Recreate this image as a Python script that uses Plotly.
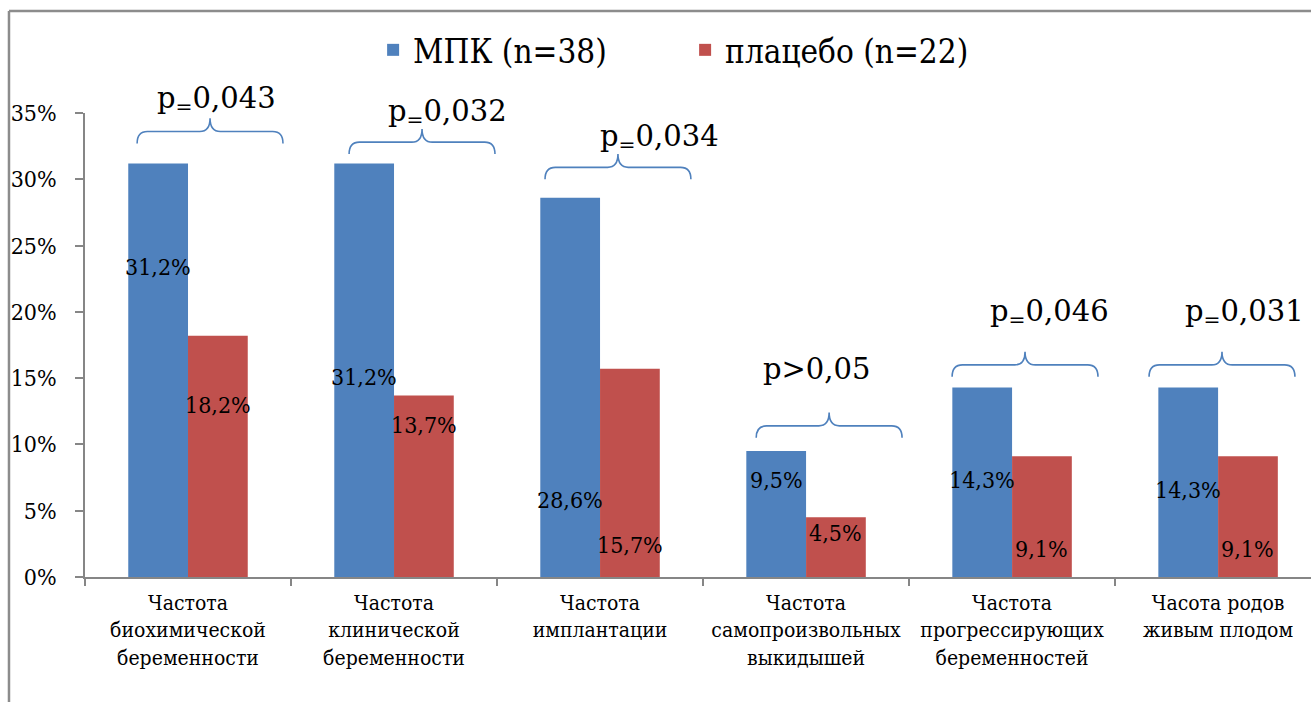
import plotly.graph_objects as go

# --- data -----------------------------------------------------------------
categories = [
    "Частота<br>биохимической<br>беременности",
    "Частота<br>клинической<br>беременности",
    "Частота<br>имплантации",
    "Частота<br>самопроизвольных<br>выкидышей",
    "Частота<br>прогрессирующих<br>беременностей",
    "Часота родов<br>живым плодом",
]
mpk_values = [31.2, 31.2, 28.6, 9.5, 14.3, 14.3]
placebo_values = [18.2, 13.7, 15.7, 4.5, 9.1, 9.1]
p_labels = ["p<sub>=</sub>0,043", "p<sub>=</sub>0,032", "p<sub>=</sub>0,034",
            "p>0,05", "p<sub>=</sub>0,046", "p<sub>=</sub>0,031"]
series_names = ["МПК (n=38)", "плацебо (n=22)"]
y_tick_vals = [0, 5, 10, 15, 20, 25, 30, 35]
y_tick_text = ["0%", "5%", "10%", "15%", "20%", "25%", "30%", "35%"]

# --- placement of the hand-positioned labels ------------------------------
mpk_label_y = [23.4, 15.1, 5.8, 7.3, 7.3, 6.6]
placebo_label_y = [13.0, 11.5, 2.4, 3.3, 2.1, 2.1]
brace_center = [0.107, 1.136, 2.087, 3.112, 4.063, 5.019]
brace_level = [33.6, 32.8, 30.9, 11.4, 16.0, 16.0]
p_label_x = [0.14, 1.26, 2.29, 3.05, 4.18, 5.13]
p_label_y = [37.6, 36.6, 34.7, 15.7, 19.9, 19.9]

Y_MAX = 35
BLUE = "#4F81BD"
RED = "#C0504D"
AXIS = "#868686"
FONT = "DejaVu Serif Condensed"
FONT_P = "DejaVu Serif"

BAR_GAP = 0.42
half_bar = (1 - BAR_GAP) / 4  # offset of each bar centre from the group centre

fig = go.Figure()
fig.add_trace(go.Bar(x=categories, y=mpk_values, name=series_names[0],
                     marker=dict(color=BLUE, line=dict(width=0))))
fig.add_trace(go.Bar(x=categories, y=placebo_values, name=series_names[1],
                     marker=dict(color=RED, line=dict(width=0))))


def pct(v):
    return f"{v:.1f}".replace(".", ",") + "%"


annotations = []
for i in range(len(categories)):
    annotations.append(dict(x=i - half_bar, y=mpk_label_y[i], xref="x", yref="y",
                            text=pct(mpk_values[i]), showarrow=False,
                            font=dict(size=23, color="black", family=FONT)))
    annotations.append(dict(x=i + half_bar, y=placebo_label_y[i], xref="x", yref="y",
                            text=pct(placebo_values[i]), showarrow=False,
                            font=dict(size=23, color="black", family=FONT)))
    # p-values may sit above the top of the value axis, so place them in domain units
    annotations.append(dict(x=p_label_x[i], y=p_label_y[i] / Y_MAX,
                            xref="x", yref="y domain",
                            text=p_labels[i], showarrow=False,
                            font=dict(size=29, color="black", family=FONT_P)))

# curly braces above each pair of bars
shapes = []
hw, r, tip, drop = 0.354, 0.05, 1.0, 0.9
for c, lv in zip(brace_center, brace_level):
    xl, xr = c - hw, c + hw
    path = (f"M{xl},{lv - drop} Q{xl},{lv} {xl + r},{lv} "
            f"L{c - r},{lv} Q{c},{lv} {c},{lv + tip} "
            f"Q{c},{lv} {c + r},{lv} "
            f"L{xr - r},{lv} Q{xr},{lv} {xr},{lv - drop}")
    shapes.append(dict(type="path", path=path, xref="x", yref="y",
                       line=dict(color=BLUE, width=1.6)))

# chart-area frame (left and top edges)
shapes.append(dict(type="line", xref="paper", yref="paper",
                   x0=-0.062, x1=-0.062, y0=-0.3, y1=1.2198,
                   line=dict(color="#8C8C8C", width=2.5)))
shapes.append(dict(type="line", xref="paper", yref="paper",
                   x0=-0.062, x1=1.01, y0=1.2198, y1=1.2198,
                   line=dict(color="#8C8C8C", width=2.5)))

fig.update_layout(
    width=1311, height=702,
    margin=dict(l=85, r=0, t=113, b=125, autoexpand=False),
    paper_bgcolor="white", plot_bgcolor="white",
    barmode="group", bargap=BAR_GAP, bargroupgap=0,
    font=dict(family=FONT, color="black"),
    showlegend=True,
    legend=dict(orientation="h", x=0.235, xanchor="left", y=1.136, yanchor="middle",
                font=dict(size=33, family=FONT, color="black"),
                entrywidth=267, traceorder="normal", bgcolor="rgba(0,0,0,0)"),
    annotations=annotations,
    shapes=shapes,
)

fig.update_xaxes(type="category", range=[-0.5, 5.451], tickson="boundaries",
                 ticks="outside", ticklen=7, tickcolor=AXIS, tickwidth=1.5,
                 showline=True, linecolor=AXIS, linewidth=1.5, tickangle=0,
                 automargin=False,
                 showgrid=False, zeroline=False, ticklabelstandoff=6,
                 tickfont=dict(size=21, family=FONT, color="black"))
fig.update_yaxes(range=[0, Y_MAX], tickvals=y_tick_vals, ticktext=y_tick_text,
                 ticks="outside", ticklen=8, tickcolor=AXIS, tickwidth=1.5,
                 showline=True, linecolor=AXIS, linewidth=1.5, automargin=False,
                 showgrid=False, zeroline=False, ticklabelstandoff=14,
                 tickfont=dict(size=23, family=FONT, color="black"))

fig.write_html("out.html")
